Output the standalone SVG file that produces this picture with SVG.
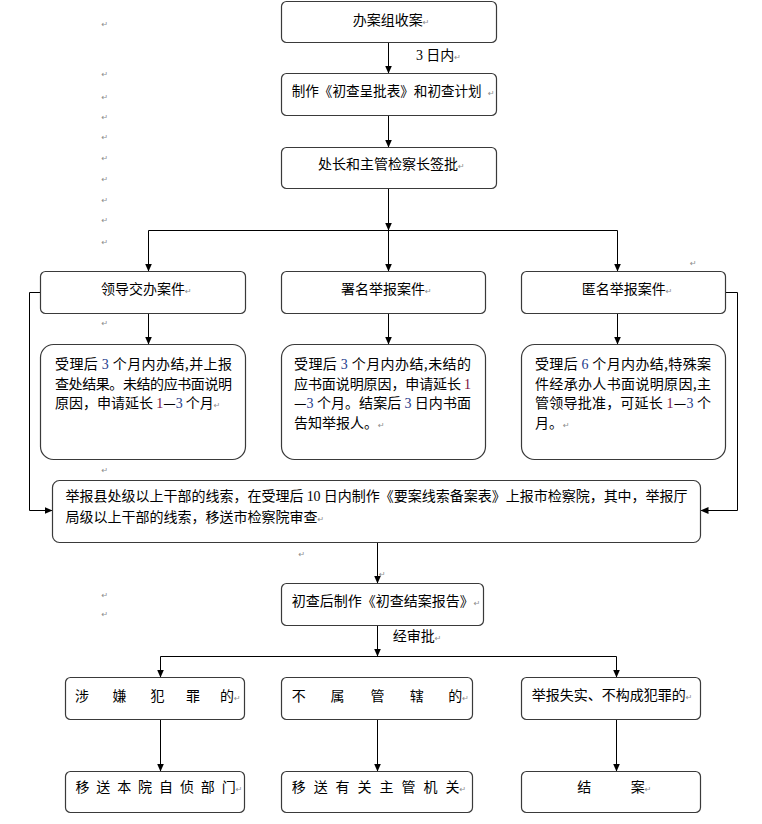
<svg xmlns="http://www.w3.org/2000/svg" width="762" height="824" viewBox="0 0 762 824">
<style>
.box{fill:#fff;stroke:#3a3a3a;stroke-width:1.2}
.t{font-family:"Noto Sans CJK SC","Noto Sans CJK JP",sans-serif;font-size:14px;fill:#000}
.n{font-family:"Liberation Serif",serif}
.r{font-family:"DejaVu Sans",sans-serif;font-size:8px;fill:#8c8c8c}
.c{fill:none;stroke:#000;stroke-width:1}
.ar{marker-end:url(#ah)}
.d1{fill:#7a1040}
.d3{fill:#1c3a8c}
</style>
<defs>
<marker id="ah" markerUnits="userSpaceOnUse" markerWidth="8" markerHeight="8" refX="8" refY="3.5" orient="auto">
<path d="M0,0 L8,3.5 L0,7 z" fill="#000"/>
</marker>
</defs>
<rect width="762" height="824" fill="#fff"/>

<g id="connectors">
<line class="c ar" x1="388.5" y1="42.5" x2="388.5" y2="73.5"/>
<line class="c ar" x1="388.5" y1="115.5" x2="388.5" y2="147.5"/>
<line class="c ar" x1="388.5" y1="188.5" x2="388.5" y2="230.5"/>
<line class="c" x1="148.5" y1="230.5" x2="617.5" y2="230.5"/>
<line class="c ar" x1="148.5" y1="230.5" x2="148.5" y2="271.5"/>
<line class="c ar" x1="388.5" y1="230.5" x2="388.5" y2="271.5"/>
<line class="c ar" x1="617.5" y1="230.5" x2="617.5" y2="271.5"/>
<line class="c ar" x1="148.5" y1="313.5" x2="148.5" y2="344.5"/>
<line class="c ar" x1="388.5" y1="313.5" x2="388.5" y2="344.5"/>
<line class="c ar" x1="617.5" y1="313.5" x2="617.5" y2="344.5"/>
<polyline class="c ar" points="40.5,292.5 29.5,292.5 29.5,510.5 52.5,510.5"/>
<polyline class="c ar" points="725.5,292.5 737.5,292.5 737.5,510.5 700.5,510.5"/>
<line class="c ar" x1="377.5" y1="542.5" x2="377.5" y2="583.5"/>
<line class="c ar" x1="377.5" y1="625.5" x2="377.5" y2="656.5"/>
<line class="c" x1="160.5" y1="656.5" x2="616.5" y2="656.5"/>
<line class="c ar" x1="160.5" y1="656.5" x2="160.5" y2="677.5"/>
<line class="c ar" x1="616.5" y1="656.5" x2="616.5" y2="677.5"/>
<line class="c ar" x1="160.5" y1="719.5" x2="160.5" y2="771.5"/>
<line class="c ar" x1="377.5" y1="719.5" x2="377.5" y2="771.5"/>
<line class="c ar" x1="616.5" y1="719.5" x2="616.5" y2="771.5"/>
<text class="t" x="416" y="60"><tspan class="n">3</tspan> 日内<tspan class="r">↵</tspan></text>
<text class="t" x="392.7" y="640.5">经审批<tspan class="r">↵</tspan></text>
</g>

<g id="n1">
<rect class="box" x="281.5" y="1.5" width="215" height="41" rx="5"/>
<text class="t" x="352.7" y="24.5">办案组收案<tspan class="r">↵</tspan></text>
</g>
<g id="n2">
<rect class="box" x="281.5" y="73.5" width="215" height="42" rx="5"/>
<text class="t" x="291.7" y="95.5" textLength="190" lengthAdjust="spacingAndGlyphs">制作《初查呈批表》和初查计划</text>
<text class="r" x="488" y="95.5">↵</text>
</g>
<g id="n3">
<rect class="box" x="281.5" y="147.5" width="215" height="41" rx="5"/>
<text class="t" x="318" y="169">处长和主管检察长签批<tspan class="r">↵</tspan></text>
</g>

<g id="n4">
<rect class="box" x="40.5" y="271.5" width="205" height="42" rx="5"/>
<text class="t" x="101" y="294">领导交办案件<tspan class="r">↵</tspan></text>
</g>
<g id="n5">
<rect class="box" x="281.5" y="271.5" width="204" height="42" rx="5"/>
<text class="t" x="341" y="294">署名举报案件<tspan class="r">↵</tspan></text>
</g>
<g id="n6">
<rect class="box" x="521.5" y="271.5" width="204" height="42" rx="5"/>
<text class="t" x="581.7" y="294">匿名举报案件<tspan class="r">↵</tspan></text>
</g>

<g id="n7">
<rect class="box" x="40.5" y="344.5" width="205" height="115" rx="13"/>
<text class="t" x="55" y="369" textLength="177" lengthAdjust="spacing">受理后 <tspan class="n d3">3</tspan> 个月内办结,并上报</text>
<text class="t" x="55" y="388.5" textLength="177" lengthAdjust="spacing">查处结果。未结的应书面说明</text>
<text class="t" x="55" y="408">原因，申请延长 <tspan class="n d1">1</tspan>—<tspan class="n d3">3</tspan> 个月<tspan class="r">↵</tspan></text>
</g>
<g id="n8">
<rect class="box" x="281.5" y="344.5" width="204" height="115" rx="13"/>
<text class="t" x="294" y="369" textLength="177" lengthAdjust="spacing">受理后 <tspan class="n d3">3</tspan> 个月内办结,未结的</text>
<text class="t" x="294" y="388.5" textLength="177" lengthAdjust="spacing">应书面说明原因，申请延长 <tspan class="n d1">1</tspan></text>
<text class="t" x="294" y="408" textLength="177" lengthAdjust="spacing">—<tspan class="n d3">3</tspan> 个月。结案后 <tspan class="n d3">3</tspan> 日内书面</text>
<text class="t" x="294" y="427.5">告知举报人。<tspan class="r">↵</tspan></text>
</g>
<g id="n9">
<rect class="box" x="521.5" y="344.5" width="204" height="115" rx="13"/>
<text class="t" x="535" y="369" textLength="176" lengthAdjust="spacing">受理后 <tspan class="n d3">6</tspan> 个月内办结,特殊案</text>
<text class="t" x="535" y="388.5" textLength="176" lengthAdjust="spacing">件经承办人书面说明原因,主</text>
<text class="t" x="535" y="408" textLength="176" lengthAdjust="spacing">管领导批准，可延长 <tspan class="n d1">1</tspan>—<tspan class="n d3">3</tspan> 个</text>
<text class="t" x="535" y="427.5">月。<tspan class="r">↵</tspan></text>
</g>

<g id="n10">
<rect class="box" x="52.5" y="480.5" width="648" height="62" rx="7"/>
<text class="t" x="65.6" y="501" textLength="622" lengthAdjust="spacing">举报县处级以上干部的线索，在受理后 <tspan class="n">10</tspan> 日内制作《要案线索备案表》上报市检察院，其中，举报厅</text>
<text class="t" x="65.6" y="521.5">局级以上干部的线索，移送市检察院审查<tspan class="r">↵</tspan></text>
</g>

<g id="n11">
<rect class="box" x="281.5" y="583.5" width="202" height="42" rx="5"/>
<text class="t" x="291.7" y="605.5">初查后制作《初查结案报告》<tspan class="r">↵</tspan></text>
</g>

<g id="n12">
<rect class="box" x="65.5" y="677.5" width="179" height="42" rx="5"/>
<text class="t" x="75 112.5 150.5 186 220" y="700.5">涉嫌犯罪的</text><text class="r" x="234" y="700.5">↵</text>
</g>
<g id="n13">
<rect class="box" x="281.5" y="677.5" width="191" height="42" rx="5"/>
<text class="t" x="291.7 330.6 370.4 409.8 448.2" y="700.5">不属管辖的</text><text class="r" x="462.2" y="700.5">↵</text>
</g>
<g id="n14">
<rect class="box" x="521.5" y="677.5" width="179" height="42" rx="5"/>
<text class="t" x="531.7" y="699.5">举报失实、不构成犯罪的<tspan class="r">↵</tspan></text>
</g>

<g id="n15">
<rect class="box" x="65.5" y="771.5" width="179" height="41" rx="5"/>
<text class="t" x="75.4 96.3 117.2 138.1 159 179.9 200.8 221.7" y="792">移送本院自侦部门</text><text class="r" x="235.7" y="792">↵</text>
</g>
<g id="n16">
<rect class="box" x="281.5" y="771.5" width="191" height="41" rx="5"/>
<text class="t" x="291.7 313.7 335.6 357.6 379.5 401.5 423.5 445.4" y="792">移送有关主管机关</text><text class="r" x="459.4" y="792">↵</text>
</g>
<g id="n17">
<rect class="box" x="521.5" y="771.5" width="179" height="41" rx="5"/>
<text class="t" x="577.3 630.7" y="792">结案</text><text class="r" x="644.7" y="792">↵</text>
</g>

<g id="marks" class="r">
<text x="101.5" y="27">↵</text>
<text x="101.5" y="77">↵</text>
<text x="101.5" y="100">↵</text>
<text x="101.5" y="120">↵</text>
<text x="101.5" y="140">↵</text>
<text x="101.5" y="161">↵</text>
<text x="101.5" y="182">↵</text>
<text x="101.5" y="203">↵</text>
<text x="101.5" y="223">↵</text>
<text x="101.5" y="245">↵</text>
<text x="101.5" y="326">↵</text>
<text x="101.5" y="473">↵</text>
<text x="101.5" y="598">↵</text>
<text x="101.5" y="617">↵</text>
<text x="298.5" y="557">↵</text>
<text x="379" y="577">↵</text>
<text x="690" y="266">↵</text>
</g>
</svg>
